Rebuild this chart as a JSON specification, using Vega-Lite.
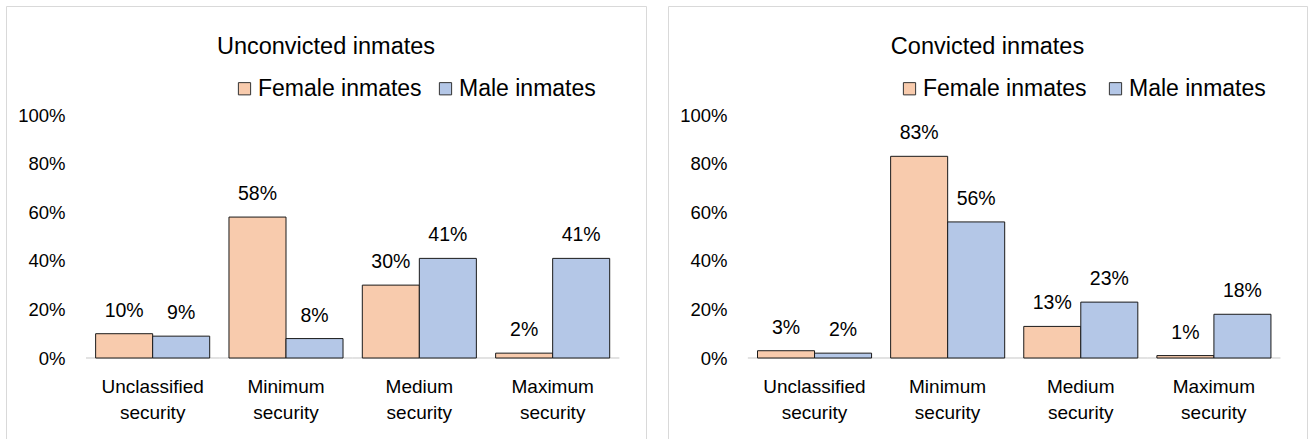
{
  "$schema": "https://vega.github.io/schema/vega-lite/v6.json",
  "padding": {"left": 5, "top": 5, "right": 0, "bottom": 0},
  "autosize": {"type": "pad"},
  "background": "white",
  "spacing": 20,
  "config": {
    "font": "Liberation Sans, Arial, sans-serif",
    "view": {"stroke": "#D9D9D9", "strokeWidth": 1},
    "title": {"fontSize": 23.5, "fontWeight": "normal", "color": "#000000", "anchor": "middle", "offset": -52, "baseline": "middle"},
    "axis": {"labelColor": "#000000", "grid": false, "ticks": false, "domain": false, "tickSize": 0}
  },
  "datasets": {
    "d": [
      {"panel": "Unconvicted", "level": "Unclassified security", "sex": "Female inmates", "value": 0.10},
      {"panel": "Unconvicted", "level": "Unclassified security", "sex": "Male inmates", "value": 0.09},
      {"panel": "Unconvicted", "level": "Minimum security", "sex": "Female inmates", "value": 0.58},
      {"panel": "Unconvicted", "level": "Minimum security", "sex": "Male inmates", "value": 0.08},
      {"panel": "Unconvicted", "level": "Medium security", "sex": "Female inmates", "value": 0.30},
      {"panel": "Unconvicted", "level": "Medium security", "sex": "Male inmates", "value": 0.41},
      {"panel": "Unconvicted", "level": "Maximum security", "sex": "Female inmates", "value": 0.02},
      {"panel": "Unconvicted", "level": "Maximum security", "sex": "Male inmates", "value": 0.41},
      {"panel": "Convicted", "level": "Unclassified security", "sex": "Female inmates", "value": 0.03},
      {"panel": "Convicted", "level": "Unclassified security", "sex": "Male inmates", "value": 0.02},
      {"panel": "Convicted", "level": "Minimum security", "sex": "Female inmates", "value": 0.83},
      {"panel": "Convicted", "level": "Minimum security", "sex": "Male inmates", "value": 0.56},
      {"panel": "Convicted", "level": "Medium security", "sex": "Female inmates", "value": 0.13},
      {"panel": "Convicted", "level": "Medium security", "sex": "Male inmates", "value": 0.23},
      {"panel": "Convicted", "level": "Maximum security", "sex": "Female inmates", "value": 0.01},
      {"panel": "Convicted", "level": "Maximum security", "sex": "Male inmates", "value": 0.18}
    ]
  },
  "resolve": {"legend": {"color": "independent"}},
  "hconcat": [
    {
      "title": "Unconvicted inmates",
      "width": 640,
      "height": 434,
      "data": {"name": "d"},
      "transform": [{"filter": "datum.panel === 'Unconvicted'"}],
      "encoding": {
        "x": {
          "field": "level", "type": "nominal", "title": null,
          "sort": ["Unclassified security", "Minimum security", "Medium security", "Maximum security"],
          "scale": {"paddingInner": 0, "paddingOuter": 0.4, "align": 0.75},
          "axis": {"orient": "bottom", "labelAngle": 0, "labelExpr": "split(datum.label, ' ')", "labelFontSize": 19, "labelLineHeight": 26, "labelPadding": 19, "offset": -82, "labelBaseline": "top"}
        }
      },
      "layer": [
        {
          "transform": [{"filter": "datum.sex === 'Female inmates'"}],
          "mark": {"type": "bar", "fillOpacity": 0, "stroke": "#D9D9D9", "strokeWidth": 1},
          "encoding": {"y": {"datum": 0, "type": "quantitative", "title": null}, "y2": {"datum": 0}}
        },
        {
          "mark": {"type": "bar", "stroke": "#1a1a1a", "strokeWidth": 1},
          "encoding": {
            "xOffset": {"field": "sex", "type": "nominal", "sort": ["Female inmates", "Male inmates"], "scale": {"paddingInner": 0, "paddingOuter": 0.169}},
            "y": {"field": "value", "type": "quantitative", "title": null,
              "scale": {"domain": [-0.3374, 1.4486], "nice": false, "zero": false},
              "axis": {"orient": "left", "values": [0, 0.2, 0.4, 0.6, 0.8, 1], "format": ".0%", "labelFontSize": 18.5, "offset": -59, "labelPadding": 0}},
            "color": {"field": "sex", "type": "nominal",
              "scale": {"domain": ["Female inmates", "Male inmates"], "range": ["#F8CBAD", "#B4C7E7"]},
              "legend": {"orient": "none", "legendX": 227, "legendY": 71, "direction": "horizontal", "title": null, "symbolType": "square", "symbolSize": 150, "symbolStrokeColor": "#333333", "symbolStrokeWidth": 1, "symbolOpacity": 1, "labelFontSize": 23, "labelLimit": 400, "labelColor": "#000000", "labelOffset": 2, "columnPadding": 12, "padding": 0}}
          }
        },
        {
          "mark": {"type": "text", "dy": -23, "fontSize": 19.5, "color": "#000000", "baseline": "middle"},
          "encoding": {
            "xOffset": {"field": "sex", "type": "nominal", "sort": ["Female inmates", "Male inmates"]},
            "y": {"field": "value", "type": "quantitative", "title": null},
            "text": {"field": "value", "format": ".0%"}
          }
        }
      ]
    },
    {
      "title": "Convicted inmates",
      "width": 639,
      "height": 434,
      "data": {"name": "d"},
      "transform": [{"filter": "datum.panel === 'Convicted'"}],
      "encoding": {
        "x": {
          "field": "level", "type": "nominal", "title": null,
          "sort": ["Unclassified security", "Minimum security", "Medium security", "Maximum security"],
          "scale": {"paddingInner": 0, "paddingOuter": 0.4, "align": 0.75},
          "axis": {"orient": "bottom", "labelAngle": 0, "labelExpr": "split(datum.label, ' ')", "labelFontSize": 19, "labelLineHeight": 26, "labelPadding": 19, "offset": -82, "labelBaseline": "top"}
        }
      },
      "layer": [
        {
          "transform": [{"filter": "datum.sex === 'Female inmates'"}],
          "mark": {"type": "bar", "fillOpacity": 0, "stroke": "#D9D9D9", "strokeWidth": 1},
          "encoding": {"y": {"datum": 0, "type": "quantitative", "title": null}, "y2": {"datum": 0}}
        },
        {
          "mark": {"type": "bar", "stroke": "#1a1a1a", "strokeWidth": 1},
          "encoding": {
            "xOffset": {"field": "sex", "type": "nominal", "sort": ["Female inmates", "Male inmates"], "scale": {"paddingInner": 0, "paddingOuter": 0.169}},
            "y": {"field": "value", "type": "quantitative", "title": null,
              "scale": {"domain": [-0.3374, 1.4486], "nice": false, "zero": false},
              "axis": {"orient": "left", "values": [0, 0.2, 0.4, 0.6, 0.8, 1], "format": ".0%", "labelFontSize": 18.5, "offset": -59, "labelPadding": 0}},
            "color": {"field": "sex", "type": "nominal",
              "scale": {"domain": ["Female inmates", "Male inmates"], "range": ["#F8CBAD", "#B4C7E7"]},
              "legend": {"orient": "none", "legendX": 230, "legendY": 71, "direction": "horizontal", "title": null, "symbolType": "square", "symbolSize": 150, "symbolStrokeColor": "#333333", "symbolStrokeWidth": 1, "symbolOpacity": 1, "labelFontSize": 23, "labelLimit": 400, "labelColor": "#000000", "labelOffset": 2, "columnPadding": 17, "padding": 0}}
          }
        },
        {
          "mark": {"type": "text", "dy": -23, "fontSize": 19.5, "color": "#000000", "baseline": "middle"},
          "encoding": {
            "xOffset": {"field": "sex", "type": "nominal", "sort": ["Female inmates", "Male inmates"]},
            "y": {"field": "value", "type": "quantitative", "title": null},
            "text": {"field": "value", "format": ".0%"}
          }
        }
      ]
    }
  ]
}
